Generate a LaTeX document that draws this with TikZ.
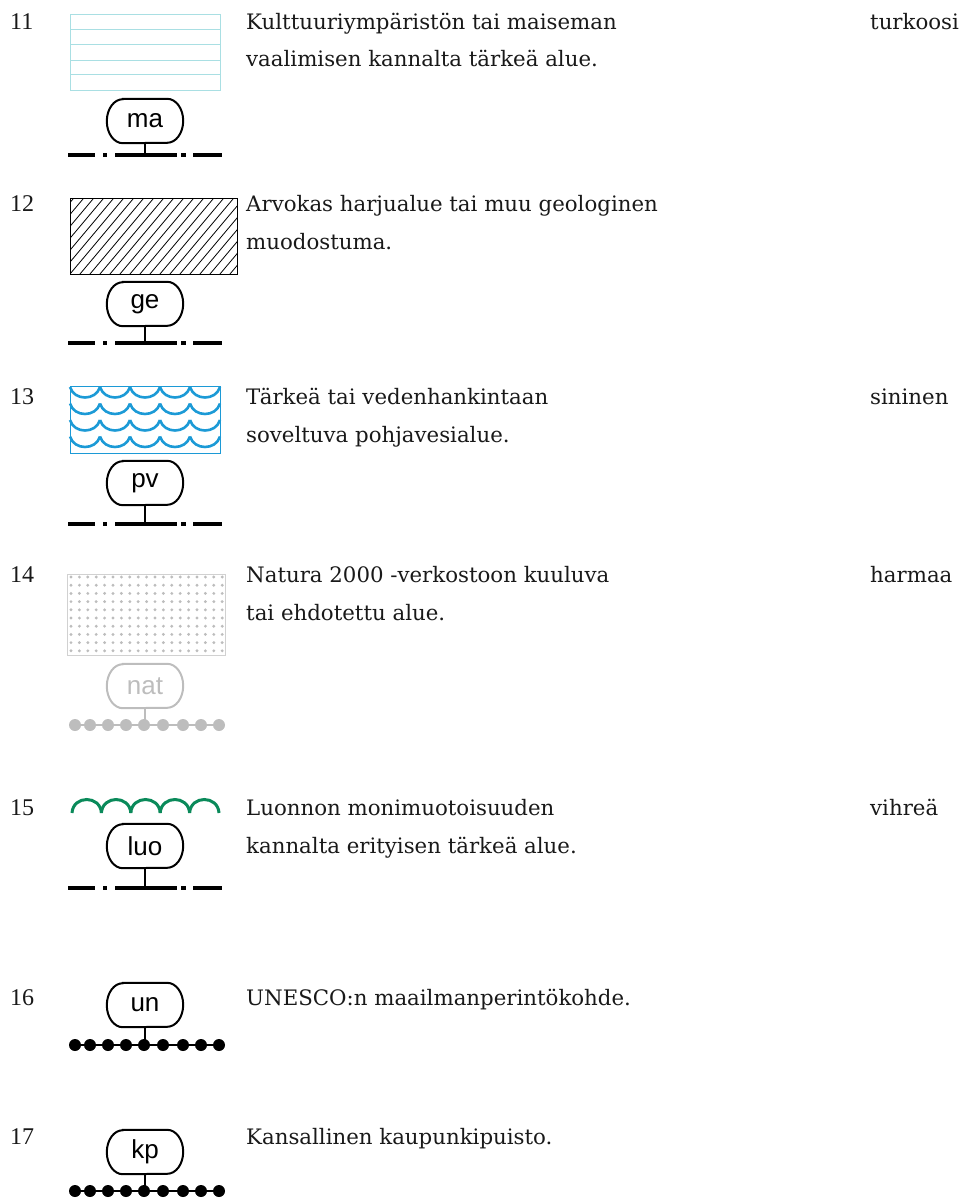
\documentclass[tikz,border=0pt]{standalone}
\usepackage{fontspec}
\setmainfont{DejaVu Serif}
\setsansfont{Liberation Sans}
\newfontfamily\numfont{Liberation Serif}
\definecolor{turk}{HTML}{A9DFE3}
\definecolor{sini}{HTML}{1C9AD6}
\definecolor{harm}{HTML}{BDBDBD}
\definecolor{vihr}{HTML}{0A8A5A}
% outline of a label pill round a named node
\newcommand\pillrim[2][black]{%
  \draw[#1,line width=2pt] ([xshift=16pt]#2.north west) -- ([xshift=-16pt]#2.north east)
    arc[start angle=90,end angle=-90,x radius=16pt,y radius=22pt]
    -- ([xshift=16pt]#2.south west)
    arc[start angle=270,end angle=90,x radius=16pt,y radius=22pt] -- cycle;}

\begin{document}
\begin{tikzpicture}
[x=1pt,y=-1pt,%
  every node/.style={inner sep=0pt},%
  pill/.style={shape=rectangle,minimum width=76pt,minimum height=44pt,font=\sffamily\fontsize{26}{26}\selectfont},%
  txt/.style={anchor=base west,font=\fontsize{21.3}{24}\selectfont,text=black!90},%
  num/.style={anchor=base west,font=\numfont\fontsize{24}{24}\selectfont,text=black!90},%
  stem/.style={line width=2pt},%
  dashdot/.style={line width=4pt,dash pattern=on 27pt off 8pt on 4pt off 8pt on 62pt off 4pt on 5pt off 7pt on 29pt off 20pt},%
  bead/.style={circle,fill,minimum size=12pt},%
  wave/.style={sini,line width=2.6pt}]
\useasboundingbox (0,0) rectangle (968,1198);

% 11 kulttuuriymparisto
\node[num] (n11) at (10,30) {11};
\draw[turk,line width=1pt] (70,15) rectangle (220,91);
\foreach \y in {29.5,45,60.5,75}
  \draw[turk,line width=1pt] (70,\y) -- (220,\y);
\node[pill] (ma) at (145,121) {ma};
\pillrim{ma}
\coordinate (ma-b) at (145,155);
\draw[stem] (ma) -- (ma-b);
\draw[dashdot] (68,155) -- (222,155);
\node[txt] (t11a) at (246,30) {Kulttuuriympäristön tai maiseman};
\node[txt] (t11b) at (246,67) {vaalimisen kannalta tärkeä alue.};
\node[txt] (c11) at (870,30) {turkoosi};

% 12 geologinen
\node[num] (n12) at (10,212) {12};
\begin{scope}
  \clip (70,199) rectangle (237,274);
  \foreach \x in {-60,-50,...,240}
    \draw[line width=0.8pt] (\x,274) -- ++(63,-75);
\end{scope}
\draw[line width=1pt] (70,199) rectangle (237,274);
\node[pill] (ge) at (145,304) {ge};
\pillrim{ge}
\coordinate (ge-b) at (145,343);
\draw[stem] (ge) -- (ge-b);
\draw[dashdot] (68,343) -- (222,343);
\node[txt] (t12a) at (246,212) {Arvokas harjualue tai muu geologinen};
\node[txt] (t12b) at (246,250) {muodostuma.};

% 13 pohjavesi
\node[num] (n13) at (10,404) {13};
\draw[sini,line width=1pt] (70,386) rectangle (220,453);
\foreach \y in {387,403.5,420,436.5}
  \foreach \x in {70,100,...,190}
    \draw[wave] (\x,\y) .. controls ({\x+4},{\y+14}) and ({\x+26},{\y+14}) .. ({\x+30},\y);
\node[pill] (pv) at (145,483) {pv};
\pillrim{pv}
\coordinate (pv-b) at (145,524);
\draw[stem] (pv) -- (pv-b);
\draw[dashdot] (68,524) -- (222,524);
\node[txt] (t13a) at (246,404) {Tärkeä tai vedenhankintaan};
\node[txt] (t13b) at (246,442) {soveltuva pohjavesialue.};
\node[txt] (c13) at (870,404) {sininen};

% 14 natura
\node[num] (n14) at (10,582) {14};
\draw[harm!70,line width=1pt] (67,574) rectangle (225,655);
\foreach \i in {0,...,18}
  \foreach \j in {0,...,9}
    \fill[harm] ({71+8.4*\i},{577+8.2*\j}) circle (1.6pt);
\node[pill,text=harm] (nat) at (145,686) {nat};
\pillrim[harm]{nat}
\coordinate (nat-b) at (145,725);
\draw[stem,harm] (nat) -- (nat-b);
\draw[harm,line width=1.5pt] (75,725) -- (219,725);
\foreach \x [count=\k] in {75,90,108,126,144,163,183,201,219}
  \node[bead,harm] (nb\k) at (\x,725) {};
\node[txt] (t14a) at (246,582) {Natura 2000 -verkostoon kuuluva};
\node[txt] (t14b) at (246,620) {tai ehdotettu alue.};
\node[txt] (c14) at (870,582) {harmaa};

% 15 luonto
\node[num] (n15) at (10,815) {15};
\foreach \x in {72,101.4,...,190}
  \draw[vihr,line width=3pt] (\x,813) .. controls ({\x+1},795) and ({\x+28.4},795) .. ({\x+29.4},813);
\node[pill] (luo) at (145,846) {luo};
\pillrim{luo}
\coordinate (luo-b) at (145,888);
\draw[stem] (luo) -- (luo-b);
\draw[dashdot] (68,888) -- (222,888);
\node[txt] (t15a) at (246,815) {Luonnon monimuotoisuuden};
\node[txt] (t15b) at (246,853) {kannalta erityisen tärkeä alue.};
\node[txt] (c15) at (870,815) {vihreä};

% 16 unesco
\node[num] (n16) at (10,1005) {16};
\node[pill] (un) at (145,1005) {un};
\pillrim{un}
\coordinate (un-b) at (145,1045);
\draw[stem] (un) -- (un-b);
\draw[line width=1.5pt] (75,1045) -- (219,1045);
\foreach \x [count=\k] in {75,90,108,126,144,163,183,201,219}
  \node[bead] (ub\k) at (\x,1045) {};
\node[txt] (t16) at (246,1005) {UNESCO:n maailmanperintökohde.};

% 17 kaupunkipuisto
\node[num] (n17) at (10,1144) {17};
\node[pill] (kp) at (145,1152) {kp};
\pillrim{kp}
\coordinate (kp-b) at (145,1191);
\draw[stem] (kp) -- (kp-b);
\draw[line width=1.5pt] (75,1191) -- (219,1191);
\foreach \x [count=\k] in {75,90,108,126,144,163,183,201,219}
  \node[bead] (kb\k) at (\x,1191) {};
\node[txt] (t17) at (246,1144) {Kansallinen kaupunkipuisto.};
\end{tikzpicture}
\end{document}
